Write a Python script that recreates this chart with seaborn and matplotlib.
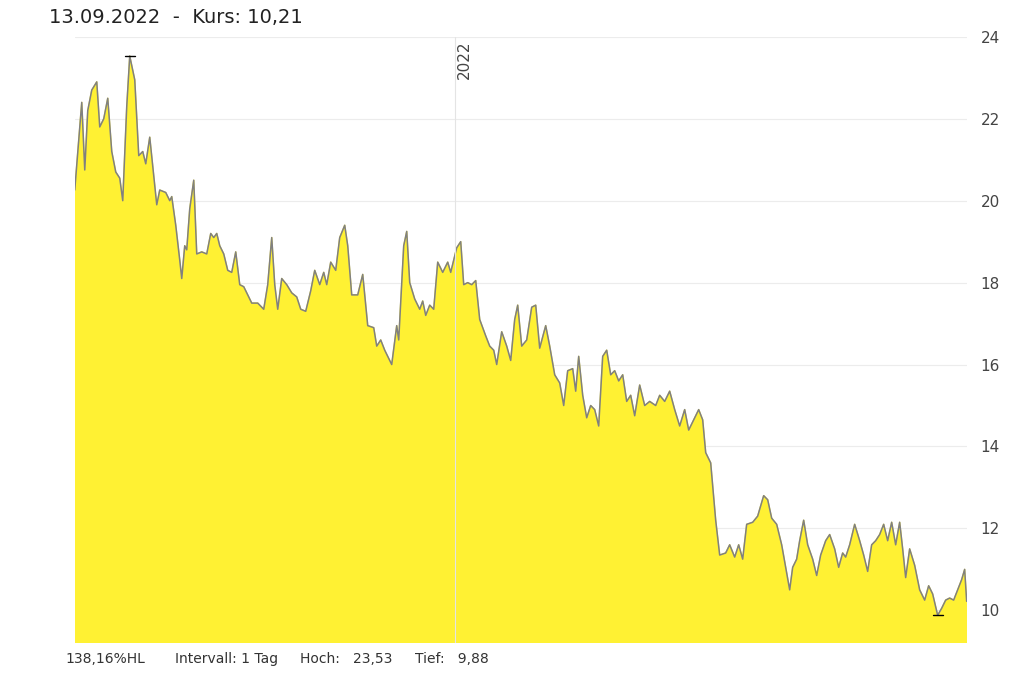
import matplotlib
matplotlib.use("Agg")
import matplotlib.pyplot as plt
import seaborn as sns
import pandas as pd

# position along the year (0 = first day shown), scaled to days below
t_pos = [0, 7, 10, 13, 17, 22, 25, 29, 33, 37, 41, 45, 48, 52, 55, 60, 64, 68, 71, 75, 79, 82, 85, 91, 95, 97,
         101, 105, 107, 110, 112, 115, 119, 122, 127, 132, 136, 139, 142, 145, 149, 153, 157, 161, 165, 169,
         173, 177, 183, 189, 193, 197, 200, 203, 207, 212, 217, 222, 226, 231, 236, 240, 245, 249, 252, 256,
         261, 265, 270, 273, 277, 283, 288, 293, 299, 302, 306, 310, 317, 322, 324, 329, 332, 335, 340, 345,
         348, 351, 355, 359, 363, 368, 373, 376, 382, 386, 389, 393, 397, 401, 405, 411, 415, 419, 422, 427,
         432, 436, 440, 443, 447, 452, 457, 461, 465, 471, 475, 480, 485, 489, 493, 498, 501, 504, 508, 512,
         516, 520, 524, 528, 532, 536, 540, 544, 548, 552, 556, 560, 565, 570, 575, 581, 585, 590, 595, 600,
         605, 610, 614, 619, 624, 628, 631, 636, 641, 645, 651, 655, 660, 664, 668, 672, 678, 683, 689, 693,
         697, 702, 707, 711, 715, 718, 722, 725, 729, 733, 738, 742, 746, 751, 755, 760, 764, 768, 771, 775,
         780, 785, 789, 793, 797, 801, 805, 809, 813, 817, 821, 825, 828, 831, 835, 840, 845, 850, 854, 858,
         863, 867, 871, 875, 879, 883, 887, 890, 892]
kurs = [20.26, 22.4, 20.75, 22.2, 22.7, 22.9, 21.8, 22.0, 22.5, 21.2, 20.7, 20.55, 20.0, 22.3, 23.53, 22.95,
        21.1, 21.2, 20.9, 21.55, 20.6, 19.9, 20.26, 20.2, 20.0, 20.1, 19.4, 18.55, 18.1, 18.9, 18.8, 19.8,
        20.5, 18.7, 18.75, 18.7, 19.2, 19.1, 19.2, 18.9, 18.7, 18.3, 18.25, 18.75, 17.95, 17.9, 17.7, 17.5,
        17.5, 17.35, 17.95, 19.1, 17.95, 17.35, 18.1, 17.95, 17.75, 17.65, 17.35, 17.3, 17.8, 18.3, 17.95,
        18.25, 17.95, 18.5, 18.3, 19.1, 19.4, 18.9, 17.7, 17.7, 18.2, 16.95, 16.9, 16.45, 16.6, 16.35, 16.0,
        16.95, 16.6, 18.9, 19.25, 18.0, 17.6, 17.35, 17.55, 17.2, 17.45, 17.35, 18.5, 18.25, 18.5, 18.25,
        18.85, 19.0, 17.95, 18.0, 17.95, 18.05, 17.1, 16.7, 16.45, 16.35, 16.0, 16.8, 16.45, 16.1, 17.1,
        17.45, 16.45, 16.6, 17.4, 17.45, 16.4, 16.95, 16.45, 15.75, 15.55, 15.0, 15.85, 15.9, 15.35, 16.2,
        15.25, 14.7, 15.0, 14.9, 14.5, 16.2, 16.35, 15.75, 15.85, 15.6, 15.75, 15.1, 15.25, 14.75, 15.5,
        15.0, 15.1, 15.0, 15.25, 15.1, 15.35, 14.9, 14.5, 14.9, 14.4, 14.65, 14.9, 14.65, 13.85, 13.6, 12.2,
        11.35, 11.4, 11.6, 11.3, 11.6, 11.25, 12.1, 12.15, 12.3, 12.8, 12.7, 12.25, 12.1, 11.6, 11.05, 10.5,
        11.05, 11.25, 11.7, 12.2, 11.6, 11.25, 10.85, 11.35, 11.7, 11.85, 11.5, 11.05, 11.4, 11.3, 11.6,
        12.1, 11.7, 11.35, 10.95, 11.6, 11.7, 11.85, 12.1, 11.7, 12.15, 11.6, 12.15, 11.5, 10.8, 11.5, 11.1,
        10.5, 10.25, 10.6, 10.4, 9.88, 10.05, 10.25, 10.3, 10.25, 10.5, 10.75, 11.0, 10.22]
y_ticks = [10, 12, 14, 16, 18, 20, 22, 24]

n = min(len(t_pos), len(kurs))
df = pd.DataFrame({"t": t_pos[:n], "kurs": kurs[:n]})
df["tag"] = df["t"] * 365 / 892.0
year_mark = 380 * 365 / 892.0

sns.set_style("white")
fig = plt.figure(figsize=(10.24, 6.82), dpi=100)
ax = fig.add_axes([0.073, 0.057, 0.871, 0.889])

ax.fill_between(df["tag"], df["kurs"], 0, color="#FFF133", zorder=2)
sns.lineplot(data=df, x="tag", y="kurs", ax=ax, color="#808080", linewidth=1.1, zorder=3)

imax = df["kurs"].idxmax()
imin = df["kurs"].idxmin()
for i in (imax, imin):
    ax.plot([df["tag"][i] - 2, df["tag"][i] + 2], [df["kurs"][i]] * 2, color="black", lw=1, zorder=4)

ax.set_xlim(0, df["tag"].max())
ax.set_ylim(9.2, 24.0)
ax.yaxis.tick_right()
ax.set_yticks(y_ticks)
ax.tick_params(axis="y", length=0, labelsize=11, labelcolor="#444444", pad=10)
ax.set_xticks([])
ax.set_xlabel("")
ax.set_ylabel("")
for y in y_ticks:
    ax.axhline(y, color="#ececec", lw=0.8, zorder=1)
ax.axvline(year_mark, color="#e4e4e4", lw=0.8, zorder=5)
ax.text(year_mark + 4, 23.9, "2022", rotation=90, ha="center", va="top", fontsize=11, color="#444444")
for s in ax.spines.values():
    s.set_visible(False)

fig.text(0.048, 0.975, "13.09.2022  -  Kurs: 10,21", fontsize=14, color="#222222", va="center")
bottom = [("138,16%HL", 0.064), ("Intervall: 1 Tag", 0.171), ("Hoch:   23,53", 0.293), ("Tief:   9,88", 0.405)]
for txt, x in bottom:
    fig.text(x, 0.033, txt, fontsize=10, color="#333333", va="center")

fig.savefig("out.png", dpi=100)
